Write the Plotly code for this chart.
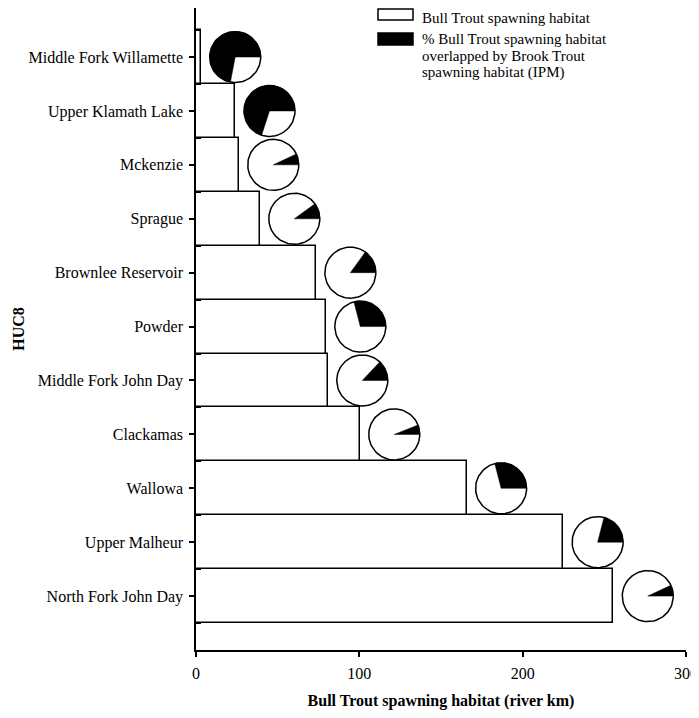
import numpy as np
import plotly.graph_objects as go

# HUC8 basins, bottom to top as drawn
basins = [
    "North Fork John Day",
    "Upper Malheur",
    "Wallowa",
    "Clackamas",
    "Middle Fork John Day",
    "Powder",
    "Brownlee Reservoir",
    "Sprague",
    "Mckenzie",
    "Upper Klamath Lake",
    "Middle Fork Willamette",
]
# Bull Trout spawning habitat (river km)
habitat_km = [255.6, 224.9, 165.8, 100.4, 80.8, 79.6, 73.5, 39.2, 26.3, 24.0, 3.0]
# % overlapped by Brook Trout spawning habitat (IPM)
overlap_pct = [7, 21, 29, 6, 13, 29, 15, 10, 7, 70, 72]

x_ticks = [0, 100, 200, 300]

FONT = "Liberation Serif"
OFF = 8  # page body margin around the figure
W, H = 699, 718 - 2 * OFF
L, T, B = 188, 0, 60
PLOT_W = 490
R = W - L - PLOT_W
X_RANGE = [0, 300]
Y_RANGE = [-1.0, 10.91]
PLOT_H = H - T - B
PIE_R_PX = 25.5
PIE_GAP = 21  # pie centre sits this far (km) right of the bar end
LINE_W = 1.5

px_x = PLOT_W / (X_RANGE[1] - X_RANGE[0])
px_y = PLOT_H / (Y_RANGE[1] - Y_RANGE[0])
rx = PIE_R_PX / px_x
ry = PIE_R_PX / px_y

ypos = list(range(len(basins)))

fig = go.Figure()

fig.add_trace(
    go.Bar(
        x=habitat_km,
        y=ypos,
        orientation="h",
        width=1,
        marker=dict(color="white", line=dict(color="black", width=LINE_W)),
        hoverinfo="skip",
    )
)

# pies: white disc + black wedge from 3 o'clock counter-clockwise
circ_x, circ_y, wedge_x, wedge_y = [], [], [], []
full = np.linspace(0, 2 * np.pi, 90)
for v, p, yc in zip(habitat_km, overlap_pct, ypos):
    cx = v + PIE_GAP
    circ_x += list(cx + rx * np.cos(full)) + [None]
    circ_y += list(yc + ry * np.sin(full)) + [None]
    arc = np.linspace(0, 2 * np.pi * p / 100, 60)
    wedge_x += [cx] + list(cx + rx * np.cos(arc)) + [cx, None]
    wedge_y += [yc] + list(yc + ry * np.sin(arc)) + [yc, None]

fig.add_trace(
    go.Scatter(
        x=circ_x, y=circ_y, mode="lines", fill="toself", fillcolor="white",
        line=dict(color="black", width=LINE_W), hoverinfo="skip",
    )
)
fig.add_trace(
    go.Scatter(
        x=wedge_x, y=wedge_y, mode="lines", fill="toself", fillcolor="black",
        line=dict(color="black", width=0.5), hoverinfo="skip",
    )
)


def px2paper(px, py):
    # page pixel -> paper coords
    return (px - OFF - L) / PLOT_W, (H - B - (py - OFF)) / PLOT_H


# legend drawn by hand to get the wide swatches
shapes = []
for (x0, y0, x1, y1), fill in [
    ((378, 9, 413, 20), "white"),
    ((378, 33, 413, 45), "black"),
]:
    a = px2paper(x0, y0)
    b = px2paper(x1, y1)
    shapes.append(
        dict(type="rect", xref="paper", yref="paper", x0=a[0], y0=b[1], x1=b[0], y1=a[1],
             fillcolor=fill, line=dict(color="black", width=LINE_W))
    )

legend_lines = [
    ("Bull Trout spawning habitat", 8, "top"),
    ("% Bull Trout spawning habitat", 39, "middle"),
    ("overlapped by Brook Trout", 56, "middle"),
    ("spawning habitat (IPM)", 73, "middle"),
]
annotations = []
for txt, py, anchor in legend_lines:
    ax, ay = px2paper(420, py)
    annotations.append(
        dict(text=txt, xref="paper", yref="paper", x=ax, y=ay, xanchor="left",
             yanchor=anchor, showarrow=False, font=dict(family=FONT, size=15, color="black"))
    )

fig.update_xaxes(
    range=X_RANGE,
    tickvals=x_ticks,
    ticks="outside",
    ticklen=5,
    tickwidth=LINE_W,
    tickcolor="black",
    ticklabelstandoff=3,
    ticklabeloverflow="allow",
    showline=True,
    linecolor="black",
    linewidth=LINE_W,
    showgrid=False,
    zeroline=False,
    automargin=False,
    tickfont=dict(family=FONT, size=16, color="black"),
    title=dict(text="<b>Bull Trout spawning habitat (river km)</b>", standoff=15,
               font=dict(family=FONT, size=16, color="black")),
)
fig.update_yaxes(
    range=Y_RANGE,
    tickvals=ypos,
    ticktext=basins,
    ticks="outside",
    ticklen=5,
    tickwidth=LINE_W,
    tickcolor="black",
    ticklabelstandoff=3,
    minor=dict(ticks="inside", tick0=-0.5, dtick=1, ticklen=5, tickwidth=LINE_W, tickcolor="black"),
    showline=True,
    linecolor="black",
    linewidth=LINE_W,
    showgrid=False,
    zeroline=False,
    automargin=False,
    tickfont=dict(family=FONT, size=16, color="black"),
    title=dict(text="<b>HUC8</b>", standoff=0, font=dict(family=FONT, size=16, color="black")),
)

fig.update_layout(
    width=W,
    height=H,
    margin=dict(l=L, r=R, t=T, b=B, autoexpand=False),
    plot_bgcolor="white",
    paper_bgcolor="white",
    showlegend=False,
    bargap=0,
    shapes=shapes,
    annotations=annotations,
)

fig.write_html("out.html")
